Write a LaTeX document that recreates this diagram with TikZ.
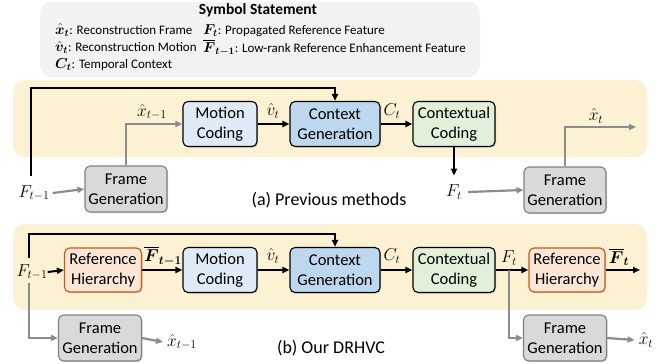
\documentclass[tikz,border=0pt]{standalone}
\usepackage{fontspec}
\usepackage{amsmath,bm}
\setmainfont{Carlito}
\usetikzlibrary{arrows.meta,shadows}
\definecolor{legbg}{HTML}{F2F2F2}
\definecolor{panel}{HTML}{FDF1D3}
\definecolor{mcfill}{HTML}{DEEBF7}
\definecolor{cgfill}{HTML}{BDD7EE}
\definecolor{ccfill}{HTML}{E2F0D9}
\definecolor{fgfill}{HTML}{D9D9D9}
\definecolor{fgline}{HTML}{808080}
\definecolor{rhfill}{HTML}{FBE5D6}
\definecolor{rhline}{HTML}{C55A11}
\definecolor{garrow}{HTML}{8C8C8C}
\newcommand\legm[1]{{\fontsize{14.5}{15}\selectfont$#1$}}
\tikzset{
  blk/.style={rounded corners=5pt, draw=black, line width=1.1pt, align=center,
    font=\fontsize{16.5}{20}\selectfont, inner sep=1pt,
    drop shadow={shadow xshift=1.2pt, shadow yshift=-1.2pt, opacity=0.35}},
  mcbox/.style={blk, fill=mcfill, minimum width=74pt, minimum height=45pt},
  cgbox/.style={blk, fill=cgfill, minimum width=90pt, minimum height=45pt},
  ccbox/.style={blk, fill=ccfill, minimum width=82pt, minimum height=45pt},
  fgbox/.style={blk, draw=fgline, fill=fgfill, minimum width=82pt, minimum height=46pt},
  rhbox/.style={blk, draw=rhline, fill=rhfill, minimum width=77pt, minimum height=44pt},
  lbl/.style={inner sep=0pt, font=\fontsize{17.5}{20}\selectfont},
  captxt/.style={inner sep=0pt, font=\fontsize{18}{21}\selectfont},
  leg/.style={inner sep=0pt, anchor=west, font=\fontsize{13}{16}\selectfont},
  barr/.style={draw=black, line width=2pt, -{Triangle[length=7pt,width=6pt]}},
  garr/.style={draw=garrow, line width=2.2pt, -{Triangle[length=7pt,width=6pt]}},
}
\begin{document}
\begin{tikzpicture}[x=1pt,y=-1pt]
\useasboundingbox (0,0) rectangle (665,364);
% backgrounds
\fill[legbg, rounded corners=12pt] (40,2) rectangle (480,77);
\fill[panel, rounded corners=12pt] (13,80) rectangle (647,157);
\fill[panel, rounded corners=12pt] (13,224) rectangle (647,310);
% legend
\node[inner sep=0pt, font=\fontsize{15.5}{17}\selectfont\bfseries] (legt) at (258,10.5) {Symbol Statement};
\node[leg] (l1) at (55,30) {\legm{\bm{\hat{x}_t}}: Reconstruction Frame};
\node[leg] (l2) at (55,47.5) {\legm{\bm{\hat{v}_t}}: Reconstruction Motion};
\node[leg] (l3) at (55,64.5) {\legm{\bm{C_t}}: Temporal Context};
\node[leg] (l4) at (203,31) {\legm{\bm{F_t}}: Propagated Reference Feature};
\node[leg] (l5) at (203,48) {\legm{\overline{\bm{F}}_{\bm{t-1}}}: Low-rank Reference Enhancement Feature};
% ---------- (a) ----------
\node[mcbox] (mca) at (220,124) {Motion\\Coding};
\node[cgbox] (cga) at (335,124) {Context\\Generation};
\node[ccbox] (cca) at (454,124) {Contextual\\Coding};
\node[fgbox] (fga1) at (126,189) {Frame\\Generation};
\node[fgbox] (fga2) at (565,190) {Frame\\Generation};
\node[lbl] (Fa) at (34,193) {$F_{t-1}$};
\node[lbl] (Fta) at (454,192) {$F_t$};
\node[captxt] (capa) at (329,200) {(a) Previous methods};
\coordinate (a0) at (31,176);
\coordinate (xa) at (636,127);
\draw[barr] (a0) -- (31,88) -| (cga.north);
\draw[garr] ([xshift=3pt]Fa.east) -- (fga1.west);
\draw[garr] (fga1.north) |- (mca.west);
\node[lbl] at (152,112) {$\hat{x}_{t-1}$};
\draw[barr] (mca.east) -- (cga.west);
\node[lbl] at (273,111) {$\hat{v}_t$};
\draw[barr] (cga.east) -- (cca.west);
\node[lbl] at (392,111) {$C_t$};
\draw[barr] (cca.south) -- ([yshift=9pt]Fta.north);
\draw[garr] ([xshift=6pt]Fta.east) -- (fga2.west);
\draw[garr] (fga2.north) |- (xa);
\node[lbl] at (596,116) {$\hat{x}_t$};
% ---------- (b) ----------
\node[rhbox] (rh1) at (103,270) {Reference\\Hierarchy};
\node[mcbox] (mcb) at (220,270) {Motion\\Coding};
\node[cgbox] (cgb) at (335,270) {Context\\Generation};
\node[ccbox] (ccb) at (454,270) {Contextual\\Coding};
\node[rhbox, minimum width=76pt] (rh2) at (567,270) {Reference\\Hierarchy};
\node[fgbox, minimum width=83pt] (fgb1) at (100,338) {Frame\\Generation};
\node[fgbox, minimum width=83pt] (fgb2) at (565,338) {Frame\\Generation};
\node[lbl] (Fb) at (32,272) {$F_{t-1}$};
\node[lbl] (xb1) at (182,342) {$\hat{x}_{t-1}$};
\node[lbl] (xb2) at (646,340) {$\hat{x}_t$};
\node[captxt] (capb) at (331,348) {(b) Our DRHVC};
\coordinate (b0) at (29,258);
\coordinate (b1) at (29,283);
\coordinate (br) at (509,270);
\coordinate (Fbo) at (640,270);
\draw[barr] (b0) -- (29,234) -| (cgb.north);
\draw[barr] (Fb.east) -- (rh1.west);
\draw[barr] (rh1.east) -- (mcb.west);
\node[lbl] at (163,256) {$\overline{\bm{F}}_{\bm{t-1}}$};
\draw[barr] (mcb.east) -- (cgb.west);
\node[lbl] at (273,256) {$\hat{v}_t$};
\draw[barr] (cgb.east) -- (ccb.west);
\node[lbl] at (392,256) {$C_t$};
\draw[barr] (ccb.east) -- (rh2.west);
\node[lbl] at (509,258) {$F_t$};
\draw[barr] (rh2.east) -- (Fbo);
\node[lbl] at (619,257) {$\overline{\bm{F}}_{\bm{t}}$};
\draw[garr] (br) |- (fgb2.west);
\draw[garr] (b1) |- (fgb1.west);
\draw[garr] (fgb1.east) -- ([xshift=-4pt]xb1.west);
\draw[garr] (fgb2.east) -- ([xshift=-4pt]xb2.west);
\end{tikzpicture}
\end{document}
